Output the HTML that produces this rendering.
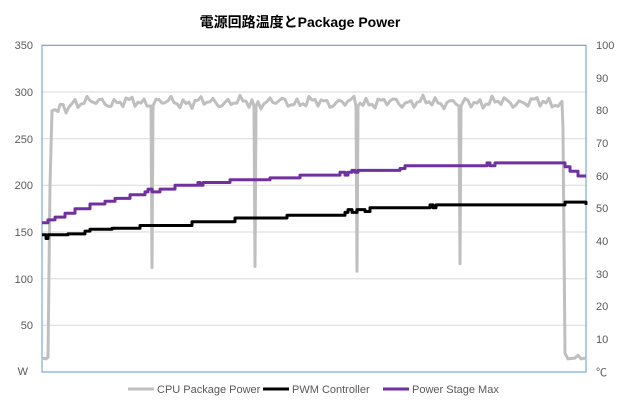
<!DOCTYPE html>
<html><head><meta charset="utf-8"><style>
body{margin:0;background:#fff;width:620px;height:400px;overflow:hidden;font-family:"Liberation Sans","Noto Sans CJK JP",sans-serif}
</style></head><body>
<svg id="s" width="620" height="400" xmlns="http://www.w3.org/2000/svg" font-family="Liberation Sans, Noto Sans CJK JP, sans-serif">
<rect width="620" height="400" fill="#fff"/>
<text x="300" y="27" text-anchor="middle" font-size="14" font-weight="bold" fill="#000">電源回路温度とPackage Power</text>
<g stroke="#d9d9d9" stroke-width="1">
<line x1="42" x2="586" y1="45.3" y2="45.3"/><line x1="42" x2="586" y1="92" y2="92"/>
<line x1="42" x2="586" y1="138.7" y2="138.7"/><line x1="42" x2="586" y1="185.3" y2="185.3"/>
<line x1="42" x2="586" y1="232" y2="232"/><line x1="42" x2="586" y1="278.7" y2="278.7"/>
<line x1="42" x2="586" y1="325.3" y2="325.3"/>
</g>
<rect x="42" y="45.3" width="544" height="326.7" fill="none" stroke="#5b9bd5" stroke-width="1"/>
<g font-size="11" fill="#595959" text-anchor="end">
<text x="33" y="49">350</text><text x="33" y="96">300</text><text x="33" y="143">250</text>
<text x="33" y="189">200</text><text x="33" y="236">150</text><text x="33" y="283">100</text>
<text x="33" y="329">50</text><text x="28" y="375">W</text>
</g>
<g font-size="11" fill="#595959" text-anchor="start">
<text x="596" y="49">100</text><text x="596" y="82">90</text><text x="596" y="114">80</text>
<text x="596" y="147">70</text><text x="596" y="180">60</text><text x="596" y="212">50</text>
<text x="596" y="245">40</text><text x="596" y="278">30</text><text x="596" y="310">20</text>
<text x="596" y="343">10</text><text x="596" y="376">℃</text>
</g>
<g id="lines"></g>
<g font-size="11" fill="#595959">
<line x1="128" x2="154" y1="389" y2="389" stroke="#bfbfbf" stroke-width="3"/><text x="157" y="393">CPU Package Power</text>
<line x1="263" x2="289" y1="389" y2="389" stroke="#000" stroke-width="3"/><text x="292" y="393">PWM Controller</text>
<line x1="383" x2="409" y1="389" y2="389" stroke="#7030a0" stroke-width="3"/><text x="412" y="393">Power Stage Max</text>
</g>
</svg>
<script>
function Y(v){return 372-v*0.9333;}
var g=document.getElementById('lines');
function poly(pts,col){var p=document.createElementNS('http://www.w3.org/2000/svg','polyline');p.setAttribute('points',pts.map(function(a){return a[0]+','+Y(a[1]).toFixed(1)}).join(' '));p.setAttribute('fill','none');p.setAttribute('stroke',col);p.setAttribute('stroke-width','3');p.setAttribute('stroke-linejoin','round');g.appendChild(p);}
// CPU
var c=[[42,15],[46,14],[48,16],[50,200],[52,280],[55,281],[58,279]];
var drops=[152,255,357,460];var dv=[112,113,108,116];
for(var x=60;x<=560;x+=3){
 var d=-1;for(var i=0;i<4;i++){if(x>drops[i]-3&&x<drops[i]+3)d=i;}
 if(d>=0){ c.push([drops[d]-1,285],[drops[d],dv[d]],[drops[d]+1,285]); continue;}
 var v=289+3.5*Math.sin(x*0.45)+2.5*Math.sin(x*1.1+1)-2*Math.cos(x*0.17);
 if(x<70)v-=5;
 c.push([x,v]);
}
c.push([562,290],[563,260],[565,20],[568,14],[575,15],[578,18],[581,14],[586,15]);
poly(c,'#bfbfbf');
function steps(arr){var p=[];for(var i=0;i<arr.length;i++){if(i>0)p.push([arr[i][0],arr[i-1][1]]);p.push(arr[i]);}return p;}
var b=steps([[42,147],[46,143],[48,147],[68,148],[85,151],[90,153],[112,154],[140,157],[192,161],[235,165],[287,168],[345,171],[348,174],[352,171],[357,174],[365,172],[370,176],[428,176],[430,179],[433,176],[436,179],[535,179],[565,182],[586,179]]);
b.push([586,179]);poly(b,'#000');
var p=steps([[42,160],[48,163],[55,166],[65,170],[75,175],[90,180],[105,183],[115,186],[130,190],[145,193],[148,196],[152,193],[160,196],[175,200],[198,203],[200,200],[203,203],[230,206],[270,208],[300,211],[340,214],[345,211],[348,214],[352,216],[355,214],[358,216],[370,216],[400,218],[405,221],[430,221],[485,221],[487,224],[490,221],[495,224],[560,224],[565,220],[570,215],[578,210],[586,210]]);
poly(p,'#7030a0');
</script>
</body></html>
